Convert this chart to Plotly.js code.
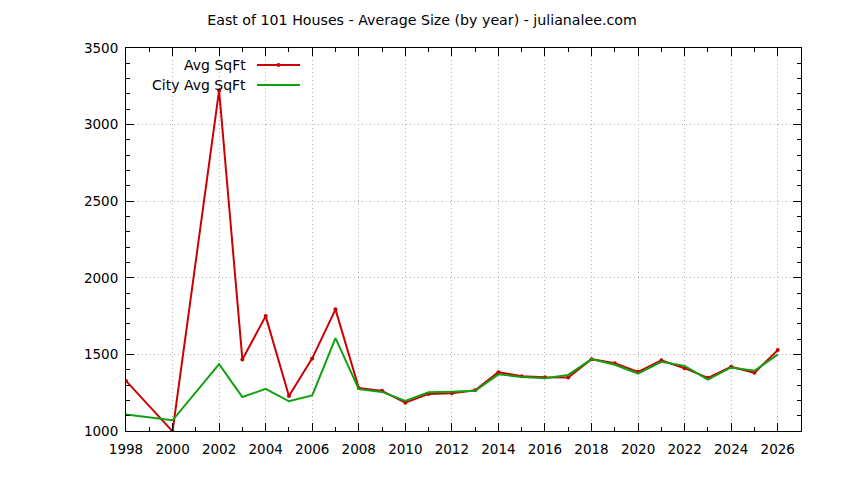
<!DOCTYPE html>
<html>
<head>
<meta charset="utf-8">
<script src="https://cdn.plot.ly/plotly-3.0.1.min.js"></script>
<style>
  html, body { margin: 0; padding: 0; background: #fff; }
  #chart { width: 844px; height: 480px; }
</style>
</head>
<body>
<div id="chart"></div>
<script>
// Data
const years = [1998, 2000, 2002, 2003, 2004, 2005, 2006, 2007, 2008, 2009, 2010, 2011,
               2012, 2013, 2014, 2015, 2016, 2017, 2018, 2019, 2020, 2021, 2022, 2023,
               2024, 2025, 2026];
const avgSqFt = [1327, 998, 3223, 1467, 1750, 1229, 1474, 1794, 1281, 1262, 1185, 1242,
                 1247, 1266, 1384, 1358, 1351, 1349, 1469, 1443, 1386, 1461, 1410, 1347,
                 1419, 1380, 1528];
const cityAvgSqFt = [1107, 1070, 1436, 1222, 1275, 1194, 1232, 1606, 1273, 1255, 1196, 1253,
                     1256, 1262, 1370, 1353, 1345, 1366, 1469, 1432, 1375, 1452, 1425, 1336,
                     1415, 1393, 1500];
const seriesNames = ['Avg SqFt', 'City Avg SqFt'];

const RED = '#cc0000';
const GREEN = '#10a010';
const FONT = 'DejaVu Sans, sans-serif';

const traces = [
    {
        x: years, y: avgSqFt, name: seriesNames[0],
        type: 'scatter', mode: 'lines+markers',
        line: { color: RED, width: 2 },
        marker: { color: RED, size: 4, symbol: 'circle' }
    },
    {
        x: years, y: cityAvgSqFt, name: seriesNames[1],
        type: 'scatter', mode: 'lines',
        line: { color: GREEN, width: 2 }
    }
];

const axisCommon = {
    showline: true, linecolor: '#000', linewidth: 1, mirror: 'allticks',
    ticks: 'inside', ticklen: 8, tickcolor: '#000', tickwidth: 1,
    showgrid: true, gridcolor: '#b4b4b4', griddash: '1px,3px', gridwidth: 1,
    zeroline: false,
    tickfont: { family: FONT, size: 13.5, color: '#000' }
};

// gnuplot style key: text on the left, sample on the right
const keyX = 0.1807, sampleX0 = 0.1941, sampleX1 = 0.2578;
const keyRows = [0.9556, 0.9034];

const layout = {
    width: 844, height: 480,
    paper_bgcolor: '#fff', plot_bgcolor: '#fff',
    margin: { l: 126, r: 43, t: 48, b: 49 },
    showlegend: false,
    title: {
        text: 'East of 101 Houses - Average Size (by year) - julianalee.com',
        font: { family: FONT, size: 14.2, color: '#000' },
        x: 0.5, xanchor: 'center', y: 1 - 20 / 480, yanchor: 'middle'
    },
    xaxis: Object.assign({}, axisCommon, {
        range: [1998, 2027], tick0: 1998, dtick: 2, ticklabelstandoff: 6,
        minor: { dtick: 1, ticks: 'inside', ticklen: 4, tickcolor: '#000', showgrid: false }
    }),
    yaxis: Object.assign({}, axisCommon, {
        range: [1000, 3500], tick0: 1000, dtick: 500, ticklabelstandoff: 4,
        minor: { dtick: 100, ticks: 'inside', ticklen: 4, tickcolor: '#000', showgrid: false }
    }),
    annotations: seriesNames.map((n, i) => ({
        text: n, xref: 'paper', yref: 'paper', x: keyX, y: keyRows[i],
        xanchor: 'right', yanchor: 'middle', showarrow: false,
        font: { family: FONT, size: 14, color: '#000' }
    })),
    shapes: [
        { type: 'line', xref: 'paper', yref: 'paper', x0: sampleX0, x1: sampleX1,
          y0: keyRows[0], y1: keyRows[0], line: { color: RED, width: 2 } },
        { type: 'line', xref: 'paper', yref: 'paper', x0: sampleX0, x1: sampleX1,
          y0: keyRows[1], y1: keyRows[1], line: { color: GREEN, width: 2 } }
    ]
};

// marker on the red key sample
layout.shapes.push({
    type: 'circle', xref: 'paper', yref: 'paper',
    x0: (sampleX0 + sampleX1) / 2 - 0.003, x1: (sampleX0 + sampleX1) / 2 + 0.003,
    y0: keyRows[0] - 0.005, y1: keyRows[0] + 0.005,
    fillcolor: RED, line: { color: RED, width: 0 }
});

Plotly.newPlot('chart', traces, layout, { displayModeBar: false, staticPlot: true });
</script>
</body>
</html>
